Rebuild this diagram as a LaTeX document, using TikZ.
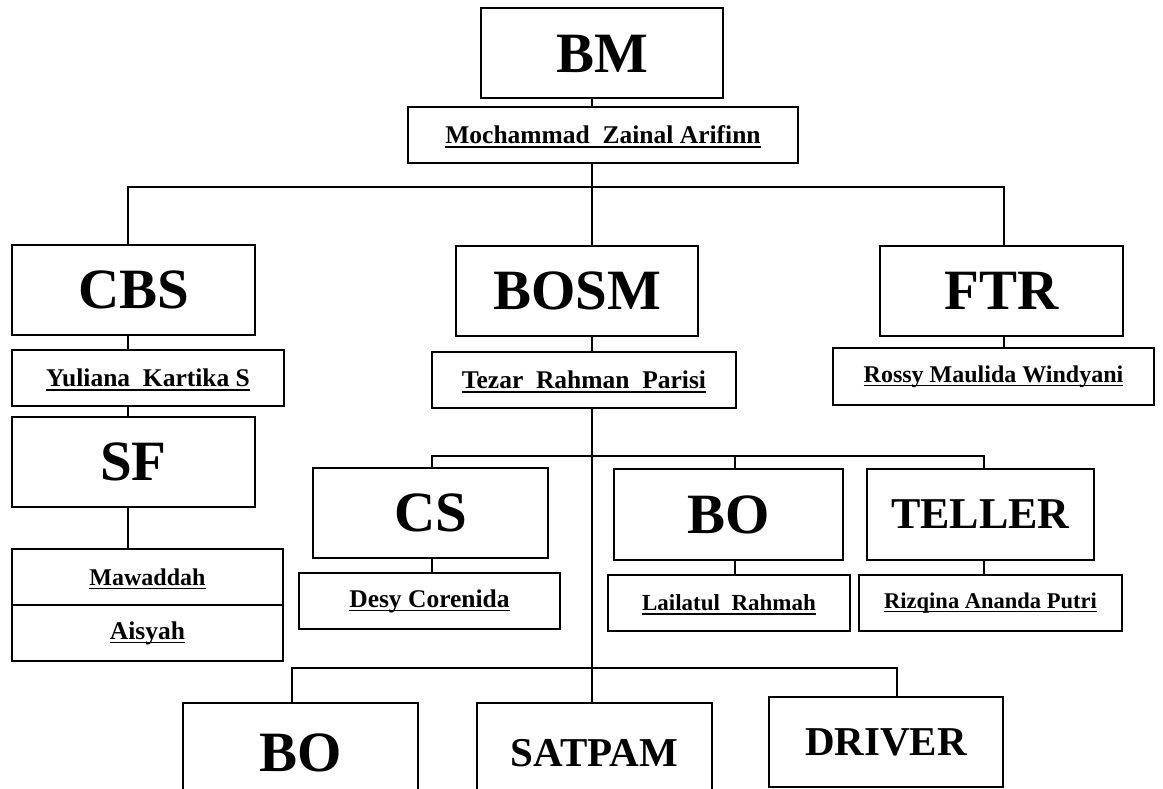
\documentclass[tikz,border=0pt]{standalone}
\usepackage{fontspec}
\setmainfont{Liberation Serif}
\usetikzlibrary{positioning}

\tikzset{
    role/.style={draw, line width=2pt, inner sep=0pt, minimum width=240pt, minimum height=90pt,
        font=\fontsize{57}{60}\selectfont\bfseries},
    midrole/.style={role, font=\fontsize{44}{48}\selectfont\bfseries},
    smallrole/.style={role, font=\fontsize{41}{44}\selectfont\bfseries},
    person/.style={draw, line width=2pt, inner sep=0pt, minimum height=56pt,
        font=\fontsize{25.5}{28}\selectfont\bfseries},
    link/.style={line width=1.6pt},
}
% underlined name, the rule does not change the box size
\newsavebox{\nmbox}
\newcommand{\nm}[1]{\sbox{\nmbox}{#1}\rlap{\raisebox{-4pt}[0pt][0pt]{\rule{\wd\nmbox}{1.4pt}}}\usebox{\nmbox}}

\begin{document}
\begin{tikzpicture}[x=1pt, y=-1pt]
    \clip (0,0) rectangle (1163,789);
    % drop lines and buses
    \coordinate (trunk) at (592,0);
    \coordinate (cbsx) at (128,0);
    \coordinate (ftrx) at (1004,0);
    \coordinate (csx) at (432,0);
    \coordinate (bomx) at (735,0);
    \coordinate (tellerx) at (984,0);
    \coordinate (bobx) at (292,0);
    \coordinate (driverx) at (897,0);
    \coordinate (topbus) at (592,187);
    \coordinate (midbus) at (592,456);
    \coordinate (lowbus) at (592,668);

    % top
    \node[role, minimum width=242pt] (bm) at (602,53.5) {BM};
    \node[person, minimum width=390pt] (bmname) at (603,135) {\nm{Mochammad~~Zainal~Arifinn}};

    % left column
    \node[role, minimum width=243pt] (cbs) at (133.5,290) {CBS};
    \node[person, minimum width=272pt] (yuliana) at (148,378) {\nm{Yuliana~~Kartika S}};
    \node[role, minimum width=243pt] (sf) at (133.5,462) {SF};
    \node[person, minimum width=271pt, font=\fontsize{24}{26}\selectfont\bfseries] (mawaddah) at (147.5,577) {\nm{Mawaddah}};
    \node[person, minimum width=271pt] (aisyah) at (147.5,633) {\nm{Aisyah}};

    % middle column
    \node[role, minimum width=242pt] (bosm) at (577,290.5) {BOSM};
    \node[person, minimum width=304pt] (tezar) at (584,380) {\nm{Tezar~~Rahman~~Parisi}};

    % right column
    \node[role, minimum width=243pt] (ftr) at (1001.5,290.5) {FTR};
    \node[person, minimum width=321pt, minimum height=57pt, font=\fontsize{24}{26}\selectfont\bfseries] (rossy) at (993.5,376.5) {\nm{Rossy Maulida Windyani}};

    % second level
    \node[role, minimum width=235pt] (cs) at (430.5,513) {CS};
    \node[person, minimum width=261pt] (desy) at (429.5,601) {\nm{Desy Corenida}};
    \node[role, minimum width=229pt, minimum height=91pt] (bo) at (728.5,514.5) {BO};
    \node[person, minimum width=242pt, font=\fontsize{23}{25}\selectfont\bfseries] (lailatul) at (729,603) {\nm{Lailatul~~Rahmah}};
    \node[midrole, minimum width=227pt, minimum height=91pt] (teller) at (980.5,514.5) {TELLER};
    \node[person, minimum width=263pt, font=\fontsize{22.5}{25}\selectfont\bfseries] (rizqina) at (990.5,603) {\nm{Rizqina Ananda Putri}};

    % bottom row
    \node[role, minimum width=235pt, minimum height=100pt] (bob) at (300.5,753) {BO};
    \node[smallrole, minimum width=235pt, minimum height=100pt] (satpam) at (594.5,753) {SATPAM};
    \node[smallrole, minimum width=234pt] (driver) at (886,742) {DRIVER};

    % connectors
    \draw[link] (bm.south -| trunk) -- (bmname.north -| trunk);
    \draw[link] (bmname.south -| trunk) -- (bosm.north -| trunk);
    \draw[link] (cbs.north -| cbsx) |- (topbus) -| (ftr.north -| ftrx);
    \draw[link] (cbs.south -| cbsx) -- (yuliana.north -| cbsx);
    \draw[link] (yuliana.south -| cbsx) -- (sf.north -| cbsx);
    \draw[link] (sf.south -| cbsx) -- (mawaddah.north -| cbsx);
    \draw[link] (bosm.south -| trunk) -- (tezar.north -| trunk);
    \draw[link] (ftr.south -| ftrx) -- (rossy.north -| ftrx);
    \draw[link] (tezar.south -| trunk) -- (satpam.north -| trunk);
    \draw[link] (cs.north -| csx) |- (midbus) -| (teller.north -| tellerx);
    \draw[link] (midbus) -| (bo.north -| bomx);
    \draw[link] (cs.south -| csx) -- (desy.north -| csx);
    \draw[link] (bo.south -| bomx) -- (lailatul.north -| bomx);
    \draw[link] (teller.south -| tellerx) -- (rizqina.north -| tellerx);
    \draw[link] (bob.north -| bobx) |- (lowbus) -| (driver.north -| driverx);
\end{tikzpicture}
\end{document}
